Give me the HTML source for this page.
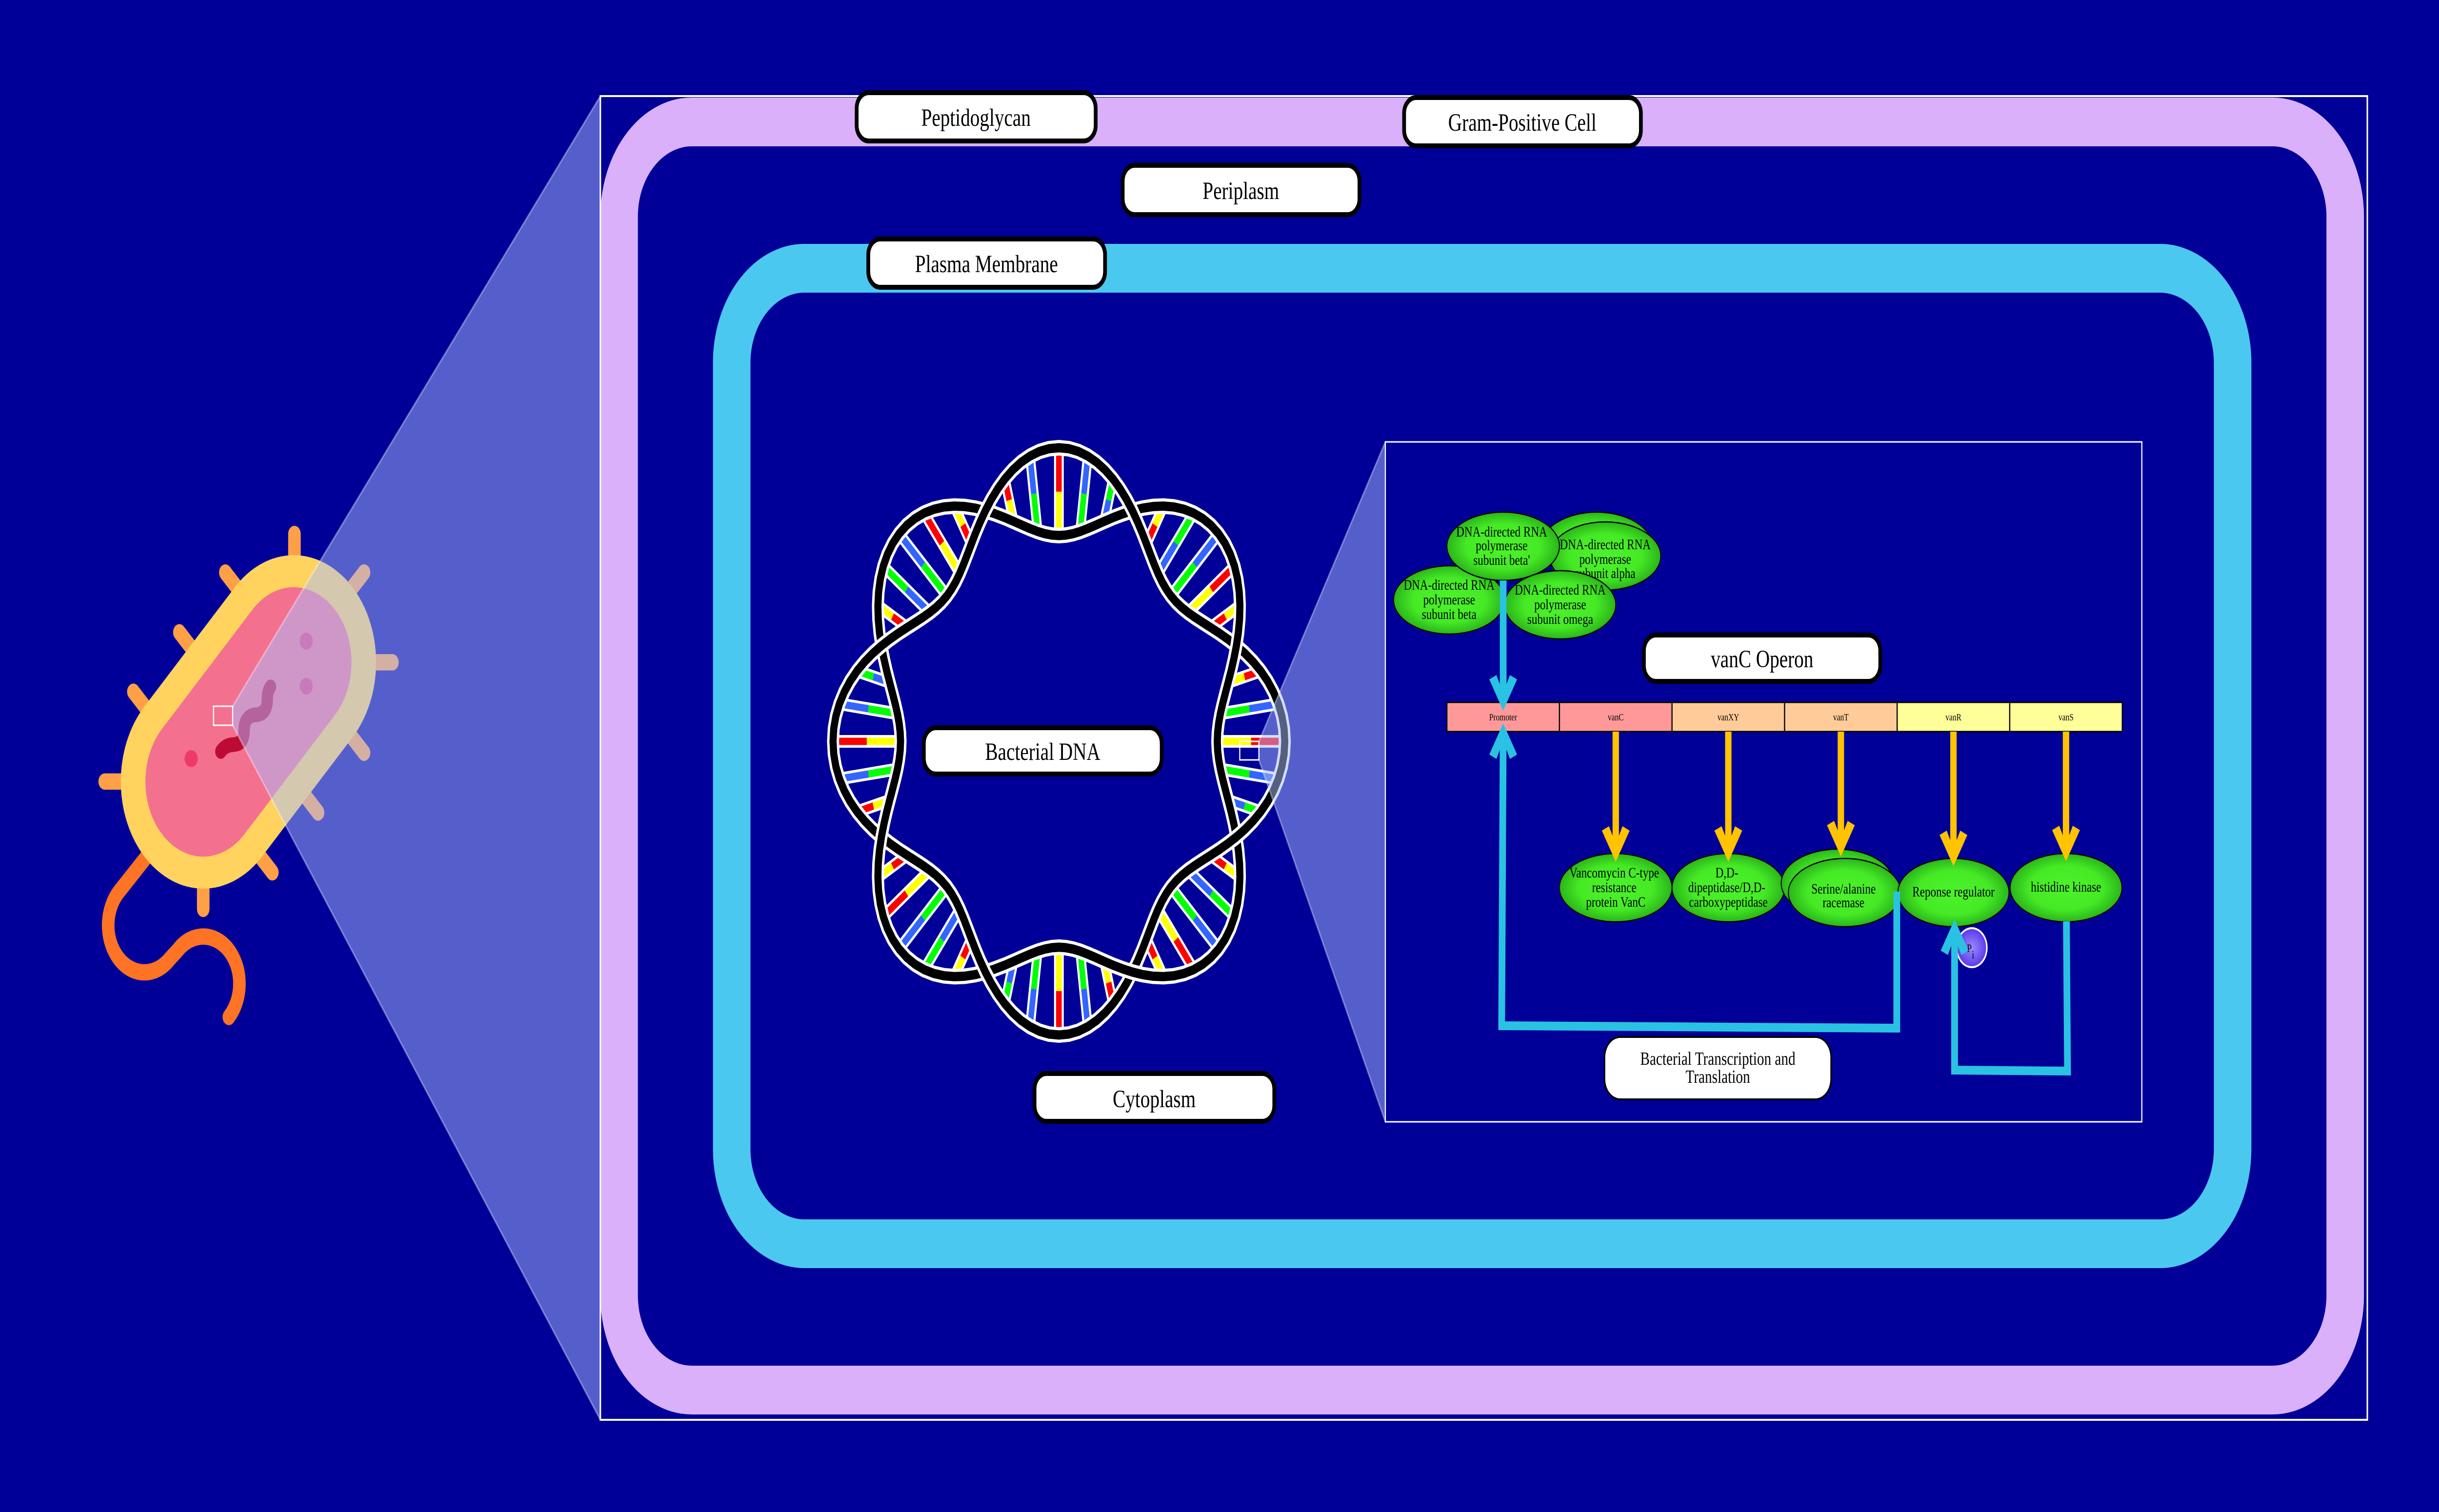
<!DOCTYPE html>
<html>
<head>
<meta charset="utf-8">
<style>
html,body{margin:0;padding:0;background:#000099;overflow:hidden;width:100%;height:100%;}
svg{display:block;position:fixed;left:0;top:0;width:100vw;height:100vh;}
.lbl{fill:#fff;stroke:#000;stroke-width:10;}
.lt{font-family:"Liberation Serif",serif;font-size:51px;fill:#000;text-anchor:middle;}
.et{font-family:"Liberation Serif",serif;font-size:30px;fill:#000;text-anchor:middle;}
.gt{font-family:"Liberation Serif",serif;font-size:20px;fill:#000;text-anchor:middle;}
.el{fill:url(#gg);stroke:#000;stroke-width:2.5;}
.rw{stroke:#fff;stroke-width:26;}
.R{stroke:#ff0000;stroke-width:15;}
.Y{stroke:#ffff00;stroke-width:15;}
.G{stroke:#00ff00;stroke-width:15;}
.B{stroke:#3366ff;stroke-width:15;}
.sw{fill:none;stroke:#fff;stroke-width:32;stroke-linejoin:round;}
.sb{fill:none;stroke:#000;stroke-width:19;stroke-linejoin:round;}
.or{fill:#ffc300;}
.ol{stroke:#ffc300;stroke-width:17;}
.bl{fill:#2ac2e2;}
</style>
</head>
<body>
<svg viewBox="0 0 6500 3100" preserveAspectRatio="none" xmlns="http://www.w3.org/2000/svg">
<defs>
  <radialGradient id="gg" cx="50%" cy="50%" r="50%">
    <stop offset="0" stop-color="#4cf22c"/>
    <stop offset="0.65" stop-color="#45ea25"/>
    <stop offset="1" stop-color="#2bb51a"/>
  </radialGradient>
  <radialGradient id="pg" cx="50%" cy="50%" r="50%">
    <stop offset="0" stop-color="#9a8cff"/>
    <stop offset="1" stop-color="#5a38ea"/>
  </radialGradient>
  <g id="lobeA">
    <line class="rw" x1="-120.9" y1="-451.1" x2="-144.2" y2="-538.0"/>
    <line class="Y" x1="-120.9" y1="-451.1" x2="-132.5" y2="-494.6"/>
    <line class="R" x1="-132.5" y1="-494.6" x2="-144.2" y2="-538.0"/>
    <line class="rw" x1="-56.7" y1="-430.3" x2="-77.0" y2="-584.9"/>
    <line class="G" x1="-56.7" y1="-430.3" x2="-66.8" y2="-507.6"/>
    <line class="B" x1="-66.8" y1="-507.6" x2="-77.0" y2="-584.9"/>
    <line class="rw" x1="0" y1="-422" x2="0" y2="-602"/>
    <line class="Y" x1="0" y1="-422" x2="0" y2="-512"/>
    <line class="R" x1="0" y1="-512" x2="0" y2="-602"/>
    <line class="rw" x1="56.7" y1="-430.3" x2="77.0" y2="-584.9"/>
    <line class="G" x1="56.7" y1="-430.3" x2="66.8" y2="-507.6"/>
    <line class="B" x1="66.8" y1="-507.6" x2="77.0" y2="-584.9"/>
    <line class="rw" x1="120.9" y1="-451.1" x2="144.2" y2="-538.0"/>
    <line class="B" x1="120.9" y1="-451.1" x2="132.5" y2="-494.6"/>
    <line class="G" x1="132.5" y1="-494.6" x2="144.2" y2="-538.0"/>
    <use href="#strands"/>
  </g>
  <g id="lobeB">
    <line class="rw" x1="-120.9" y1="-451.1" x2="-144.2" y2="-538.0"/>
    <line class="R" x1="-120.9" y1="-451.1" x2="-132.5" y2="-494.6"/>
    <line class="Y" x1="-132.5" y1="-494.6" x2="-144.2" y2="-538.0"/>
    <line class="rw" x1="-56.7" y1="-430.3" x2="-77.0" y2="-584.9"/>
    <line class="B" x1="-56.7" y1="-430.3" x2="-66.8" y2="-507.6"/>
    <line class="G" x1="-66.8" y1="-507.6" x2="-77.0" y2="-584.9"/>
    <line class="rw" x1="0" y1="-422" x2="0" y2="-602"/>
    <line class="G" x1="0" y1="-422" x2="0" y2="-512"/>
    <line class="B" x1="0" y1="-512" x2="0" y2="-602"/>
    <line class="rw" x1="56.7" y1="-430.3" x2="77.0" y2="-584.9"/>
    <line class="Y" x1="56.7" y1="-430.3" x2="66.8" y2="-507.6"/>
    <line class="R" x1="66.8" y1="-507.6" x2="77.0" y2="-584.9"/>
    <line class="rw" x1="120.9" y1="-451.1" x2="144.2" y2="-538.0"/>
    <line class="R" x1="120.9" y1="-451.1" x2="132.5" y2="-494.6"/>
    <line class="Y" x1="132.5" y1="-494.6" x2="144.2" y2="-538.0"/>
    <use href="#strands"/>
  </g>
  <g id="strands">
    <polyline class="sw" points="-209.8,-449.9 -195.9,-473.0 -180.5,-495.8 -163.2,-517.7 -144.2,-538.0 -123.3,-556.4 -100.9,-572.1 -77.0,-584.9 -52.0,-594.3 -26.2,-600.1 0,-602 26.2,-600.1 52.0,-594.3 77.0,-584.9 100.9,-572.1 123.3,-556.4 144.2,-538.0 163.2,-517.7 180.5,-495.8 195.9,-473.0 209.8,-449.9"/>
    <polyline class="sb" points="-209.8,-449.9 -195.9,-473.0 -180.5,-495.8 -163.2,-517.7 -144.2,-538.0 -123.3,-556.4 -100.9,-572.1 -77.0,-584.9 -52.0,-594.3 -26.2,-600.1 0,-602 26.2,-600.1 52.0,-594.3 77.0,-584.9 100.9,-572.1 123.3,-556.4 144.2,-538.0 163.2,-517.7 180.5,-495.8 195.9,-473.0 209.8,-449.9"/>
    <polyline class="sw" points="-223.0,-478.2 -195.9,-473.0 -169.8,-466.4 -144.7,-459.0 -120.9,-451.1 -98.3,-443.4 -76.9,-436.3 -56.7,-430.3 -37.3,-425.8 -18.5,-423.0 0,-422 18.5,-423.0 37.3,-425.8 56.7,-430.3 76.9,-436.3 98.3,-443.4 120.9,-451.1 144.7,-459.0 169.8,-466.4 195.9,-473.0 223.0,-478.2"/>
    <polyline class="sb" points="-223.0,-478.2 -195.9,-473.0 -169.8,-466.4 -144.7,-459.0 -120.9,-451.1 -98.3,-443.4 -76.9,-436.3 -56.7,-430.3 -37.3,-425.8 -18.5,-423.0 0,-422 18.5,-423.0 37.3,-425.8 56.7,-430.3 76.9,-436.3 98.3,-443.4 120.9,-451.1 144.7,-459.0 169.8,-466.4 195.9,-473.0 223.0,-478.2"/>
  </g>
</defs>

<rect x="0" y="0" width="6500" height="3100" fill="#000099"/>

<!-- Bacterium -->
<g transform="translate(180,1080) scale(0.669643)">
  <g stroke="#ffa047" stroke-width="50" stroke-linecap="round" fill="none">
    <line x1="903" y1="22" x2="903" y2="200"/>
    <line x1="628" y1="140" x2="720" y2="232"/>
    <line x1="445" y1="323" x2="537" y2="415"/>
    <line x1="262" y1="505" x2="354" y2="597"/>
    <line x1="148" y1="780" x2="300" y2="780"/>
    <line x1="540" y1="1170" x2="540" y2="1000"/>
    <line x1="815" y1="1058" x2="723" y2="966"/>
    <line x1="997" y1="875" x2="905" y2="783"/>
    <line x1="1180" y1="692" x2="1088" y2="600"/>
    <line x1="1293" y1="415" x2="1140" y2="415"/>
    <line x1="1180" y1="140" x2="1088" y2="232"/>
  </g>
  <path d="M 320 1005 L 204 1118 A 144 144 0 0 0 408 1322 L 438 1297 A 144 144 0 0 1 684 1399 A 144 144 0 0 1 642 1501" fill="none" stroke="#ff7324" stroke-width="50" stroke-linecap="round"/>
  <line x1="540" y1="780" x2="900" y2="415" stroke="#ffd35e" stroke-width="656" stroke-linecap="round"/>
  <line x1="540" y1="780" x2="900" y2="415" stroke="#f4708f" stroke-width="460" stroke-linecap="round"/>
  <circle cx="492" cy="710" r="26" fill="#ee3a6a"/>
  <circle cx="950" cy="350" r="26" fill="#e8367a"/>
  <circle cx="950" cy="488" r="26" fill="#e8367a"/>
  <path d="M 610 688 C 625 672, 640 668, 660 667 C 700 665, 703 640, 703 620 C 703 595, 720 577, 748 576 C 780 575, 795 558, 795 530 C 795 510, 800 497, 808 490" fill="none" stroke="#be0b36" stroke-width="45" stroke-linecap="round" stroke-linejoin="round"/>
</g>
<!-- cone 1 -->
<polygon points="620,1448 1600,197 1600,2911 620,1487" fill="rgba(170,190,255,0.5)"/>
<line x1="620" y1="1448" x2="1600" y2="197" stroke="rgba(255,255,255,0.35)" stroke-width="4"/>
<line x1="620" y1="1487" x2="1600" y2="2911" stroke="rgba(255,255,255,0.35)" stroke-width="4"/>
<rect x="569" y="1448" width="51" height="39" fill="none" stroke="#fff" stroke-width="3"/>

<!-- Cell envelope -->
<rect x="1650" y="250" width="4600" height="2600" rx="194" ry="194" fill="none" stroke="#dab0fb" stroke-width="100"/>
<rect x="1950" y="550" width="4000" height="2000" rx="194" ry="194" fill="none" stroke="#4bc8f0" stroke-width="100"/>
<rect x="1600" y="197" width="4709" height="2714" fill="none" stroke="#fff" stroke-width="4"/>

<!-- Labels -->
<rect class="lbl" x="2283" y="190" width="637" height="99" rx="32"/>
<text class="lt" x="2601" y="258">Peptidoglycan</text>
<rect class="lbl" x="3742" y="200" width="631" height="99" rx="32"/>
<text class="lt" x="4057" y="268">Gram-Positive Cell</text>
<rect class="lbl" x="2992" y="339" width="631" height="101" rx="32"/>
<text class="lt" x="3307" y="408">Periplasm</text>
<rect class="lbl" x="2314" y="490" width="631" height="99" rx="32"/>
<text class="lt" x="2629" y="558">Plasma Membrane</text>

<!-- DNA -->
<g transform="translate(2822,1520)">
  <use href="#lobeA" transform="rotate(0)"/>
  <use href="#lobeB" transform="rotate(45)"/>
  <use href="#lobeA" transform="rotate(90)"/>
  <use href="#lobeB" transform="rotate(135)"/>
  <use href="#lobeA" transform="rotate(180)"/>
  <use href="#lobeB" transform="rotate(225)"/>
  <use href="#lobeA" transform="rotate(270)"/>
  <use href="#lobeB" transform="rotate(315)"/>
</g>
<rect class="lbl" x="2462" y="1492" width="634" height="95" rx="32"/>
<text class="lt" x="2779" y="1558">Bacterial DNA</text>

<rect class="lbl" x="2757" y="2201" width="639" height="98" rx="32"/>
<text class="lt" x="3076" y="2270">Cytoplasm</text>

<!-- cone 2 -->
<polygon points="3355,1520 3692,906 3692,2300 3355,1558" fill="rgba(170,190,255,0.5)"/>
<line x1="3355" y1="1520" x2="3692" y2="906" stroke="rgba(255,255,255,0.35)" stroke-width="4"/>
<line x1="3355" y1="1558" x2="3692" y2="2300" stroke="rgba(255,255,255,0.35)" stroke-width="4"/>
<rect x="3304" y="1520" width="51" height="38" fill="none" stroke="#fff" stroke-width="3"/>

<!-- Operon panel -->
<rect x="3692" y="906" width="2016" height="1394" fill="none" stroke="#fff" stroke-width="3"/>

<!-- RNA polymerase ellipses -->
<ellipse class="el" cx="4255" cy="1120" rx="148" ry="70"/>
<ellipse class="el" cx="4278" cy="1140" rx="148" ry="70"/>
<text class="et" x="4278" y="1126">DNA-directed RNA</text>
<text class="et" x="4278" y="1156">polymerase</text>
<text class="et" x="4278" y="1185">subunit alpha</text>

<ellipse class="el" cx="3862" cy="1230" rx="148" ry="70"/>
<text class="et" x="3862" y="1209">DNA-directed RNA</text>
<text class="et" x="3862" y="1239">polymerase</text>
<text class="et" x="3862" y="1269">subunit beta</text>

<ellipse class="el" cx="4006" cy="1120" rx="150" ry="70"/>
<text class="et" x="4002" y="1100">DNA-directed RNA</text>
<text class="et" x="4002" y="1128">polymerase</text>
<text class="et" x="4002" y="1158">subunit beta'</text>

<ellipse class="el" cx="4158" cy="1240" rx="148" ry="70"/>
<text class="et" x="4158" y="1219">DNA-directed RNA</text>
<text class="et" x="4158" y="1249">polymerase</text>
<text class="et" x="4158" y="1279">subunit omega</text>

<!-- vanC Operon label -->
<rect class="lbl" x="4381" y="1302" width="630" height="95" rx="32"/>
<text class="lt" x="4696" y="1368">vanC Operon</text>

<!-- gene bar -->
<g stroke="#000" stroke-width="3">
  <rect x="3856" y="1440" width="300" height="60" fill="#ff9999"/>
  <rect x="4156" y="1440" width="300" height="60" fill="#ff9999"/>
  <rect x="4456" y="1440" width="300" height="60" fill="#ffcc99"/>
  <rect x="4756" y="1440" width="300" height="60" fill="#ffcc99"/>
  <rect x="5056" y="1440" width="300" height="60" fill="#ffff99"/>
  <rect x="5356" y="1440" width="300" height="60" fill="#ffff99"/>
</g>
<text class="gt" x="4006" y="1477">Promoter</text>
<text class="gt" x="4306" y="1477">vanC</text>
<text class="gt" x="4606" y="1477">vanXY</text>
<text class="gt" x="4906" y="1477">vanT</text>
<text class="gt" x="5206" y="1477">vanR</text>
<text class="gt" x="5506" y="1477">vanS</text>

<!-- protein ellipses -->
<ellipse class="el" cx="4306" cy="1820" rx="150" ry="70"/>
<text class="et" x="4302" y="1799">Vancomycin C-type</text>
<text class="et" x="4302" y="1829">resistance</text>
<text class="et" x="4306" y="1859">protein VanC</text>

<ellipse class="el" cx="4606" cy="1820" rx="150" ry="70"/>
<text class="et" x="4602" y="1799">D,D-</text>
<text class="et" x="4602" y="1829">dipeptidase/D,D-</text>
<text class="et" x="4606" y="1859">carboxypeptidase</text>

<ellipse class="el" cx="4897" cy="1811" rx="150" ry="70"/>
<ellipse class="el" cx="4916" cy="1830" rx="150" ry="70"/>
<text class="et" x="4913" y="1832">Serine/alanine</text>
<text class="et" x="4913" y="1860">racemase</text>

<ellipse class="el" cx="5206" cy="1830" rx="148" ry="70"/>
<text class="et" x="5206" y="1838">Reponse regulator</text>

<ellipse class="el" cx="5506" cy="1820" rx="149" ry="70"/>
<text class="et" x="5506" y="1828">histidine kinase</text>

<!-- orange arrows -->
<line class="ol" x1="4306" y1="1500" x2="4306" y2="1735"/>
<polygon class="or" points="4269,1703 4288,1694 4306,1731 4324,1694 4343,1703 4306,1767"/>
<line class="ol" x1="4606" y1="1500" x2="4606" y2="1735"/>
<polygon class="or" points="4569,1703 4588,1694 4606,1731 4624,1694 4643,1703 4606,1767"/>
<line class="ol" x1="4906" y1="1500" x2="4906" y2="1724"/>
<polygon class="or" points="4869,1692 4888,1683 4906,1720 4924,1683 4943,1692 4906,1756"/>
<line class="ol" x1="5206" y1="1500" x2="5206" y2="1744"/>
<polygon class="or" points="5169,1712 5188,1703 5206,1740 5224,1703 5243,1712 5206,1776"/>
<line class="ol" x1="5506" y1="1500" x2="5506" y2="1734"/>
<polygon class="or" points="5469,1702 5488,1693 5506,1730 5524,1693 5543,1702 5506,1766"/>

<!-- Pi -->
<circle cx="5255" cy="1943" r="40" fill="url(#pg)" stroke="#fff" stroke-width="4"/>
<text x="5242" y="1952" font-family="Liberation Serif, serif" font-size="23" fill="#000">P</text>
<text x="5255" y="1965" font-family="Liberation Serif, serif" font-size="23" fill="#000">i</text>

<!-- blue arrows -->
<line x1="4006" y1="1190" x2="4006" y2="1425" stroke="#2ac2e2" stroke-width="18"/>
<polygon class="bl" points="3969,1393 3988,1384 4006,1421 4024,1384 4043,1393 4006,1457"/>
<polyline points="4006,1515 4002,2103 5055,2108 5055,1828" fill="none" stroke="#2ac2e2" stroke-width="18" stroke-linejoin="miter"/>
<polygon class="bl" points="3969,1547 3988,1556 4006,1519 4024,1556 4043,1547 4006,1483"/>
<polyline points="5507,1889 5510,2196 5209,2194 5209,1917" fill="none" stroke="#2ac2e2" stroke-width="18" stroke-linejoin="miter"/>
<polygon class="bl" points="5172,1949 5191,1958 5209,1921 5227,1958 5246,1949 5209,1885"/>

<!-- Bacterial Transcription label -->
<rect x="4276" y="2126" width="604" height="128" rx="42" fill="#fff" stroke="#000" stroke-width="4"/>
<text x="4578" y="2183" font-family="Liberation Serif, serif" font-size="38" fill="#000" text-anchor="middle">Bacterial Transcription and</text>
<text x="4578" y="2220" font-family="Liberation Serif, serif" font-size="38" fill="#000" text-anchor="middle">Translation</text>
</svg>
</body>
</html>
